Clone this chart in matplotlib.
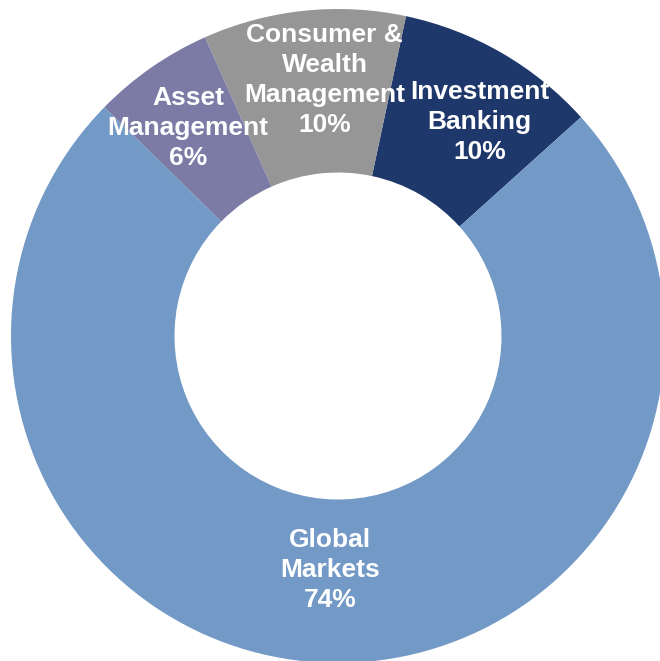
import numpy as np
import matplotlib
matplotlib.use("Agg")
import matplotlib.pyplot as plt

# Revenue split by business line
segments = ["Investment\nBanking", "Consumer &\nWealth\nManagement", "Asset\nManagement", "Global\nMarkets"]
shares = [10, 10, 6, 74]
colors = ["#1f386b", "#969696", "#7b7ba6", "#7399c6"]

plt.rcParams['font.family'] = ['Liberation Sans', 'DejaVu Sans']

fig = plt.figure(figsize=(6.6, 6.61), dpi=100)
ax = fig.add_axes([0, 0, 1, 1])

wedges, _ = ax.pie(shares, colors=colors, startangle=42, counterclock=True,
                   radius=1.0, wedgeprops=dict(width=0.5, linewidth=0))

# labels sit inside the ring, near the middle of each wedge
nudge = [-3.5, -3.0, 1.0, -0.8]   # degrees
for w, name, val, dt in zip(wedges, segments, shares, nudge):
    mid = np.deg2rad((w.theta1 + w.theta2) / 2 + dt)
    r = 0.715 if val > 50 else 0.785
    ax.text(r * np.cos(mid), r * np.sin(mid), "%s\n%d%%" % (name, val),
            ha="center", va="center", color="white", fontsize=19,
            fontweight="bold", linespacing=1.32)

ax.set_aspect("auto")
ax.set_xlim(-338 / 327, 322 / 327)
ax.set_ylim(-325 / 327, 336 / 327)
ax.axis("off")

fig.savefig("out.png", dpi=100)
